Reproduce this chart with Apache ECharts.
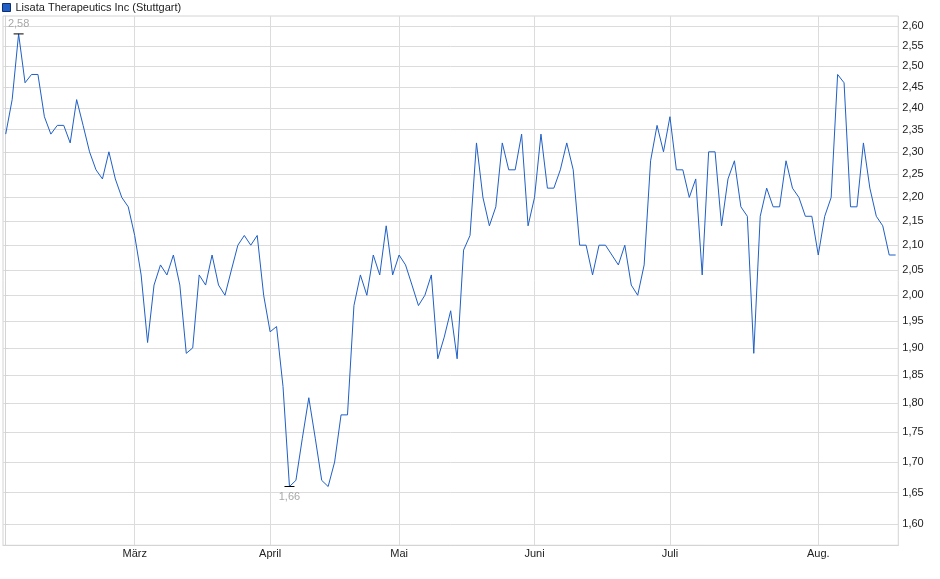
<!DOCTYPE html>
<html>
<head>
<meta charset="utf-8">
<script src="https://cdn.jsdelivr.net/npm/echarts@6/dist/echarts.min.js"></script>
<style>
html,body{margin:0;padding:0;background:#fff;}
#chart{width:940px;height:579px;}
</style>
</head>
<body>
<div id="chart"></div>
<script>
// Daily closing prices (one per trading day, index 0 = first day shown)
const prices = [
  2.34, 2.42, 2.58, 2.46, 2.48, 2.48, 2.38, 2.34, 2.36, 2.36,
  2.32, 2.42, 2.36, 2.30, 2.26, 2.24, 2.30, 2.24, 2.20, 2.18,
  2.12, 2.04, 1.91, 2.02, 2.06, 2.04, 2.08, 2.02, 1.89, 1.90,
  2.04, 2.02, 2.08, 2.02, 2.00, 2.05, 2.10, 2.12, 2.10, 2.12,
  2.00, 1.93, 1.94, 1.83, 1.66, 1.67, 1.74, 1.81, 1.74, 1.67,
  1.66, 1.70, 1.78, 1.78, 1.98, 2.04, 2.00, 2.08, 2.04, 2.14,
  2.04, 2.08, 2.06, 2.02, 1.98, 2.00, 2.04, 1.88, 1.92, 1.97,
  1.88, 2.09, 2.12, 2.32, 2.20, 2.14, 2.18, 2.32, 2.26, 2.26,
  2.34, 2.14, 2.20, 2.34, 2.22, 2.22, 2.26, 2.32, 2.26, 2.10,
  2.10, 2.04, 2.10, 2.10, 2.08, 2.06, 2.10, 2.02, 2.00, 2.06,
  2.28, 2.36, 2.30, 2.38, 2.26, 2.26, 2.20, 2.24, 2.04, 2.30,
  2.30, 2.14, 2.24, 2.28, 2.18, 2.16, 1.89, 2.16, 2.22, 2.18,
  2.18, 2.28, 2.22, 2.20, 2.16, 2.16, 2.08, 2.16, 2.20, 2.48,
  2.46, 2.18, 2.18, 2.32, 2.22, 2.16, 2.14, 2.08, 2.08
];
// Month labels and the index of the first trading day of each month
const monthLabels = ['', 'März', 'April', 'Mai', 'Juni', 'Juli', 'Aug.'];
const monthStartIndex = [0, 20, 41, 61, 82, 103, 126];
// Price axis tick labels
const priceTicks = [1.60, 1.65, 1.70, 1.75, 1.80, 1.85, 1.90, 1.95, 2.00, 2.05,
  2.10, 2.15, 2.20, 2.25, 2.30, 2.35, 2.40, 2.45, 2.50, 2.55, 2.60];
const seriesName = 'Lisata Therapeutics Inc (Stuttgart)';

const fmt = v => Number(v).toFixed(2).replace('.', ',');
const FONT = 'Liberation Sans, Arial, sans-serif';

const chart = echarts.init(document.getElementById('chart'), null, {renderer: 'canvas'});
chart.setOption({
  animation: false,
  backgroundColor: '#ffffff',
  textStyle: {fontFamily: FONT},
  legend: {
    left: 2, top: 2, padding: 0,
    itemWidth: 8, itemHeight: 8, itemGap: 10,
    icon: 'rect',
    textStyle: {fontSize: 11, color: '#222', fontFamily: FONT},
    itemStyle: {borderColor: '#0d2f70', borderWidth: 1},
    data: [seriesName]
  },
  grid: {
    left: 3, right: 41.7, top: 16, bottom: 33.7,
    show: true, borderColor: '#d4d4d4', borderWidth: 1
  },
  xAxis: {
    type: 'value',
    min: -0.42, max: 138.41,
    axisLine: {show: true, lineStyle: {color: '#d4d4d4'}},
    axisTick: {show: false, customValues: monthStartIndex},
    splitLine: {show: true, lineStyle: {color: '#dcdcdc', width: 1}},
    axisLabel: {
      customValues: monthStartIndex,
      fontSize: 11, color: '#222', fontFamily: FONT, margin: 3,
      formatter: v => {
        const k = monthStartIndex.indexOf(Math.round(v));
        return k >= 0 ? monthLabels[k] : '';
      }
    }
  },
  yAxis: {
    type: 'log',
    logBase: 10,
    position: 'right',
    min: 1.5676, max: 2.6254,
    axisLine: {show: true, lineStyle: {color: '#d4d4d4'}},
    axisTick: {show: true, length: 3, inside: false, lineStyle: {color: '#d4d4d4'}, customValues: priceTicks},
    splitLine: {show: true, lineStyle: {color: '#dcdcdc', width: 1}},
    minorSplitLine: {show: false},
    axisLabel: {
      customValues: priceTicks,
      fontSize: 11, color: '#222', fontFamily: FONT, margin: 4,
      formatter: v => fmt(v)
    }
  },
  series: [{
    name: seriesName,
    type: 'line',
    data: prices.map((v, i) => [i, v]),
    showSymbol: false,
    symbol: 'none',
    color: '#1f5fc6',
    lineStyle: {color: '#1f5fc6', width: 1},
    itemStyle: {color: '#1f5fc6'},
    markPoint: {
      symbol: 'rect',
      symbolSize: [10, 1],
      itemStyle: {color: '#000'},
      data: [
        {type: 'max', label: {position: 'top', distance: 4}},
        {type: 'min', label: {position: 'bottom', distance: 4}}
      ],
      label: {
        show: true, color: '#a8a8a8', fontSize: 11, fontFamily: FONT,
        formatter: p => fmt(p.value)
      }
    }
  }]
});
</script>
</body>
</html>
